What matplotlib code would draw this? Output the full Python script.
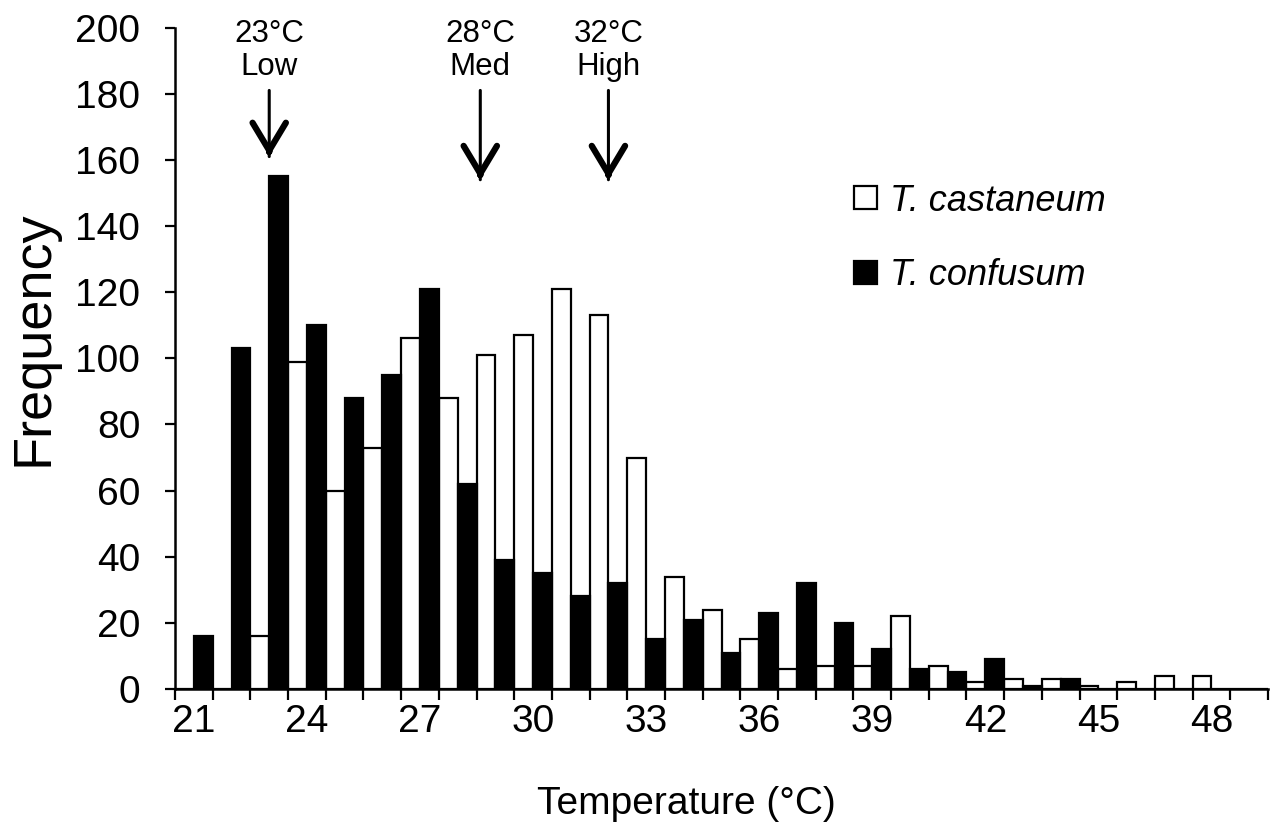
import matplotlib
matplotlib.use("Agg")
import matplotlib.pyplot as plt
from matplotlib.patches import Patch

plt.rcParams['font.family'] = ['Liberation Sans', 'DejaVu Sans']

# Données (fréquences par classe de température)
temps = list(range(21, 50))
castaneum = [0, 0, 16, 99, 60, 73, 106, 88, 101, 107,
             121, 113, 70, 34, 24, 15, 6, 7, 7, 22,
             7, 2, 3, 3, 1, 2, 4, 4, 0]
confusum = [16, 103, 155, 110, 88, 95, 121, 62, 39, 35,
            28, 32, 15, 21, 11, 23, 32, 20, 12, 6,
            5, 9, 1, 3, 0, 0, 0, 0, 0]
tick_temps = temps[::3]

# Traitements (flèches)
treat_temps = [23, 28.6, 32]
treat_labels = ["23°C\nLow", "28°C\nMed", "32°C\nHigh"]
treat_tips = [161, 154, 154]

fig = plt.figure(figsize=(12.71, 8.40), dpi=100)
ax = fig.add_axes([175/1271, 1 - 689/840, (1268 - 175)/1271, (689 - 27.6)/840])

x = [t - temps[0] for t in temps]
ax.bar([i - 0.25 for i in x], castaneum, width=0.5, color='white',
       edgecolor='black', linewidth=1.6, label='T. castaneum', zorder=2)
ax.bar([i + 0.25 for i in x], confusum, width=0.5, color='black',
       edgecolor='black', linewidth=1.6, label='T. confusum', zorder=3)

ax.set_xlim(-0.5, len(temps) - 0.5)
ax.set_ylim(0, 200)
ax.set_yticks(range(0, 201, 20))
ax.set_xticks([t - temps[0] for t in tick_temps])
ax.set_xticklabels([str(t) for t in tick_temps])
ax.set_xticks([i - 0.5 for i in range(len(temps) + 1)], minor=True)

ax.tick_params(axis='x', which='major', length=0, labelsize=28, pad=11)
ax.tick_params(axis='x', which='minor', length=8, width=1.6, direction='out')
ax.tick_params(axis='y', length=7, width=1.6, labelsize=28, pad=18)

for s in ['top', 'right']:
    ax.spines[s].set_visible(False)
for s in ['left', 'bottom']:
    ax.spines[s].set_linewidth(1.8)
    ax.spines[s].set_zorder(4)

ax.set_xlabel("Temperature (°C)", fontsize=28)
ax.xaxis.set_label_coords(0.4675, -0.147)
ax.set_ylabel("Frequency", fontsize=39)
ax.yaxis.set_label_coords(-0.107, 0.531)

# flèches des traitements
for t, lab, tip in zip(treat_temps, treat_labels, treat_tips):
    xi = t - temps[0]
    ax.text(xi, 183.5, lab, ha='center', va='bottom', fontsize=22.5,
            linespacing=1.12, clip_on=False)
    ax.annotate('', xy=(xi, tip), xytext=(xi, 181),
                arrowprops=dict(arrowstyle='-', lw=2.2, color='black',
                                shrinkA=0, shrinkB=0), annotation_clip=False)
    ax.annotate('', xy=(xi, tip), xytext=(xi, tip + 2),
                arrowprops=dict(arrowstyle='->,head_length=1.0,head_width=0.6',
                                lw=4.5, color='black', mutation_scale=20,
                                shrinkA=0, shrinkB=0), annotation_clip=False)

handles = [Patch(facecolor='white', edgecolor='black', linewidth=1.6),
           Patch(facecolor='black', edgecolor='black', linewidth=1.6)]
leg = ax.legend(handles, ['T. castaneum', 'T. confusum'], loc='upper left',
                bbox_to_anchor=(0.608, 0.786), frameon=False,
                prop={'style': 'italic', 'size': 26},
                handlelength=0.65, handleheight=0.6, handletextpad=0.36,
                labelspacing=1.1, borderaxespad=0)

fig.savefig("out.png", dpi=100)
